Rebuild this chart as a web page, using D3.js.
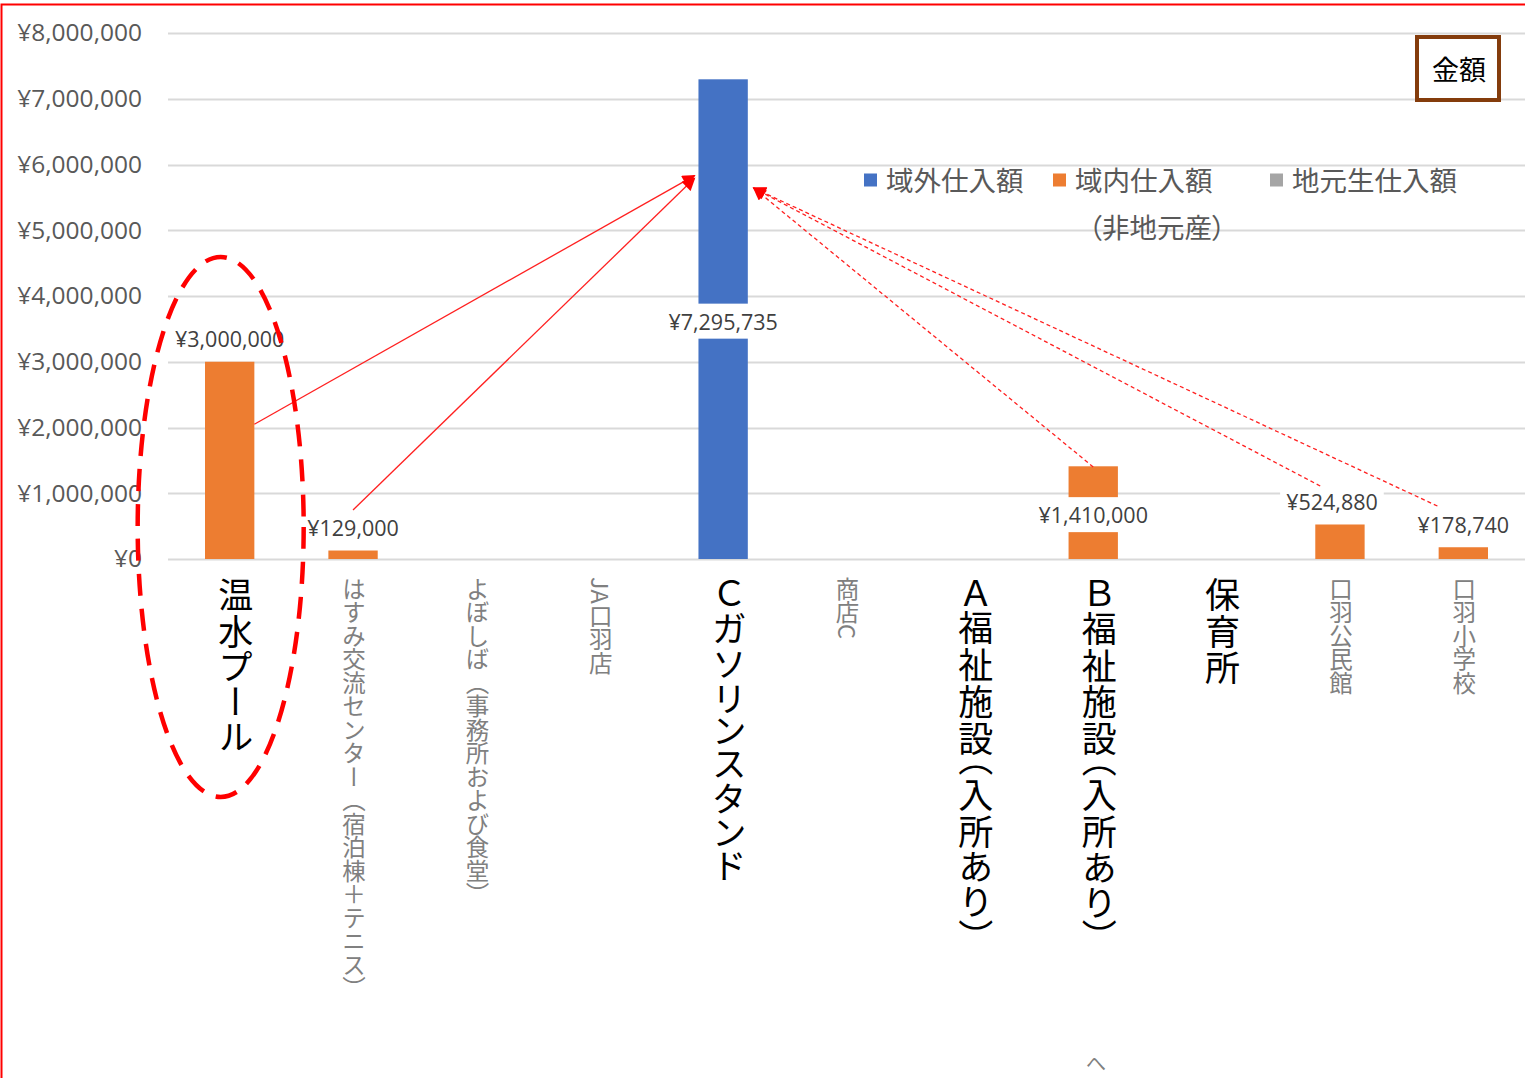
<!DOCTYPE html>
<html lang="ja">
<head>
<meta charset="utf-8">
<script src="https://cdn.jsdelivr.net/npm/d3@7"></script>
<style>
  html, body { margin: 0; padding: 0; background: #fff; }
  svg { display: block; font-family: "Noto Sans CJK JP", "Noto Sans", sans-serif; }
  .vlabel { writing-mode: vertical-rl; }
  .vlabel.big { font-feature-settings: "vpal"; letter-spacing: 1.8px; }
  .palt { font-feature-settings: "palt"; }
  .num { font-family: "Open Sans", "Noto Sans CJK JP", sans-serif; }
</style>
</head>
<body>
<div id="chart"></div>
<script>
// Data
const categories = [
  "温水プール",
  "はすみ交流センター（宿泊棟＋テニス）",
  "よぼしば（事務所および食堂）",
  "JA口羽店",
  "Ｃガソリンスタンド",
  "商店C",
  "Ａ福祉施設（入所あり）",
  "Ｂ福祉施設（入所あり）",
  "保育所",
  "口羽公民館",
  "口羽小学校",
];
const outsideValues = [0, 0, 0, 0, 7295735, 0, 0, 0, 0, 0, 0]; // 域外仕入額
const insideValues = [3000000, 129000, 0, 0, 0, 0, 0, 1410000, 0, 524880, 178740]; // 域内仕入額（非地元産）
const localValues = [0, 0, 0, 0, 0, 0, 0, 0, 0, 0, 0]; // 地元生仕入額
const yTicks = [0, 1000000, 2000000, 3000000, 4000000, 5000000, 6000000, 7000000, 8000000];
const emphasized = ["温水プール", "Ｃガソリンスタンド", "Ａ福祉施設（入所あり）", "Ｂ福祉施設（入所あり）", "保育所"];
const centeredLabels = ["Ｃガソリンスタンド", "Ｂ福祉施設（入所あり）"];
const seriesNames = ["域外仕入額", "域内仕入額", "地元生仕入額"];
const seriesKeys = ["outside", "inside", "local"];

// Arrows drawn on the chart (value coordinates)
const arrows = [
  { from: "温水プール", fromSide: 1, fromValue: 2050000, toValue: 5830000, toSide: -1, dashed: false },
  { from: "はすみ交流センター（宿泊棟＋テニス）", fromSide: 0, fromValue: 745000, toValue: 5790000, toSide: -1, dashed: false },
  { from: "Ｂ福祉施設（入所あり）", fromSide: 0, fromValue: 1400000, toValue: 5640000, toSide: 1, dashed: true },
  { from: "口羽公民館", fromSide: -0.8, fromValue: 1110000, toValue: 5640000, toSide: 1, dashed: true },
  { from: "口羽小学校", fromSide: -1.05, fromValue: 806000, toValue: 5640000, toSide: 1, dashed: true },
];

const table = categories.map((c, i) => ({
  category: c,
  outside: outsideValues[i],
  inside: insideValues[i],
  local: localValues[i],
  total: outsideValues[i] + insideValues[i] + localValues[i],
}));

// Set up dimensions
let width = 1525;
let height = 1078;
let margin = { top: 33, right: 0, bottom: 519, left: 168 };

// Set up colors
let colors = ["#4472c4", "#ed7d31", "#a5a5a5"];
let gridColor = "#d9d9d9";
let arrowColor = "#ff2020";

let formatYen = (d) => "¥" + d3.format(",")(d);

// Set up scales
let xScale = d3
  .scaleBand()
  .domain(categories)
  .range([margin.left, width - margin.right]);
let barWidth = xScale.bandwidth() * 0.4;
let xCenter = (c) => xScale(c) + xScale.bandwidth() / 2;

let yScale = d3
  .scaleLinear()
  .domain([0, 8000000])
  .range([height - margin.bottom, margin.top]);

let colorScale = d3.scaleOrdinal().domain(seriesKeys).range(colors);

const svg = d3
  .select("#chart")
  .append("svg")
  .attr("width", width)
  .attr("height", height);

// Red frame
svg
  .append("path")
  .attr("d", `M1.5,${height} L1.5,4.5 L${width},4.5`)
  .attr("fill", "none")
  .attr("stroke", "#ff0000")
  .attr("stroke-width", 2);

// Draw gridlines
svg
  .append("g")
  .selectAll("line")
  .data(yTicks)
  .join("line")
  .attr("x1", margin.left)
  .attr("x2", width)
  .attr("y1", (d) => Math.round(yScale(d)) + 0.5)
  .attr("y2", (d) => Math.round(yScale(d)) + 0.5)
  .attr("stroke", gridColor)
  .attr("stroke-width", 2);

// Draw y axis labels
const yAxisG = svg
  .append("g")
  .attr("transform", `translate(${margin.left - 26},0)`)
  .call(d3.axisLeft(yScale).tickValues(yTicks).tickFormat(formatYen).tickSize(0).tickPadding(0));
yAxisG.select(".domain").remove();
yAxisG
  .selectAll("text")
  .attr("class", "num")
  .attr("fill", "#595959")
  .style("font-size", "24.5px")
  .style("font-family", "\"Open Sans\", sans-serif");

// Draw bars (stacked)
let stacked = d3.stack().keys(seriesKeys)(table);
svg
  .append("g")
  .selectAll("g")
  .data(stacked)
  .join("g")
  .attr("fill", (d) => colorScale(d.key))
  .selectAll("rect")
  .data((d) => d.filter((e) => e[1] - e[0] > 0))
  .join("rect")
  .attr("x", (d) => xCenter(d.data.category) - barWidth / 2)
  .attr("width", barWidth)
  .attr("y", (d) => yScale(d[1]))
  .attr("height", (d) => yScale(d[0]) - yScale(d[1]));

// Draw value labels
let labelG = svg
  .append("g")
  .selectAll("g")
  .data(table.filter((d) => d.total > 0))
  .join("g");

let labelBg = labelG.append("rect").attr("fill", "#fff");

labelG
  .append("text")
  .attr("class", "num")
  .attr("x", (d) => xCenter(d.category) - (d.category === "口羽公民館" ? 8 : 0))
  .attr("y", (d) =>
    centeredLabels.includes(d.category) ? yScale(d.total / 2) + 2 : yScale(d.total) - 23
  )
  .attr("text-anchor", "middle")
  .attr("dominant-baseline", "central")
  .attr("fill", "#404040")
  .style("font-size", "21.5px")
  .text((d) => formatYen(d.total));

labelBg.each(function () {
  let box = this.parentNode.querySelector("text").getBBox();
  d3.select(this)
    .attr("x", box.x - 6)
    .attr("y", box.y + box.height / 2 - 17.5)
    .attr("width", box.width + 12)
    .attr("height", 35);
});

// Draw category labels (vertical)
svg
  .append("g")
  .selectAll("text")
  .data(categories)
  .join("text")
  .attr("class", (d) => (emphasized.includes(d) ? "vlabel big" : "vlabel"))
  .attr("x", (d) => xCenter(d) + (emphasized.includes(d) ? 6 : 1))
  .attr("y", 577)
  .attr("fill", (d) => (emphasized.includes(d) ? "#000" : "#808080"))
  .style("font-size", (d) => (emphasized.includes(d) ? "35px" : "23.5px"))
  .text((d) => d);

// Draw legend
let legendX = [864, 1053, 1270];
let legendItem = svg
  .append("g")
  .selectAll("g")
  .data(seriesNames)
  .join("g")
  .attr("transform", (d, i) => `translate(${legendX[i]},180)`);

legendItem
  .append("rect")
  .attr("y", -6.5)
  .attr("width", 13)
  .attr("height", 13)
  .attr("fill", (d, i) => colors[i]);

legendItem
  .append("text")
  .attr("x", 22)
  .attr("y", -1)
  .attr("dominant-baseline", "central")
  .attr("fill", "#595959")
  .style("font-size", "27.5px")
  .text((d) => d);

svg
  .append("text")
  .attr("class", "palt")
  .attr("x", 1157)
  .attr("y", 226)
  .attr("text-anchor", "middle")
  .attr("dominant-baseline", "central")
  .attr("fill", "#595959")
  .style("font-size", "27.5px")
  .text("（非地元産）");

// Draw title box
svg
  .append("rect")
  .attr("x", 1417)
  .attr("y", 37)
  .attr("width", 82)
  .attr("height", 63)
  .attr("fill", "#fff")
  .attr("stroke", "#843c0c")
  .attr("stroke-width", 4);

svg
  .append("text")
  .attr("x", 1459)
  .attr("y", 68)
  .attr("text-anchor", "middle")
  .attr("dominant-baseline", "central")
  .attr("fill", "#000")
  .style("font-size", "27px")
  .text("金額");

// Draw arrows
let defs = svg.append("defs");
defs
  .append("marker")
  .attr("id", "arrowhead")
  .attr("viewBox", "0 0 10 10")
  .attr("refX", 9)
  .attr("refY", 5)
  .attr("markerUnits", "userSpaceOnUse")
  .attr("markerWidth", 15)
  .attr("markerHeight", 13)
  .attr("orient", "auto")
  .append("path")
  .attr("d", "M0,0 L10,5 L0,10 Z")
  .attr("fill", "#ff0000");

let target = outsideValues.indexOf(d3.max(outsideValues));
svg
  .append("g")
  .selectAll("line")
  .data(arrows)
  .join("line")
  .attr("x1", (d) => xCenter(d.from) + (d.fromSide * barWidth) / 2)
  .attr("y1", (d) => yScale(d.fromValue))
  .attr("x2", (d) => xCenter(categories[target]) + (d.toSide * (barWidth + 8)) / 2 + (d.toSide > 0 ? 2 : 0))
  .attr("y2", (d) => yScale(d.toValue))
  .attr("stroke", arrowColor)
  .attr("stroke-width", 1.3)
  .attr("stroke-dasharray", (d) => (d.dashed ? "4 3" : null))
  .attr("marker-end", "url(#arrowhead)");

// Draw dashed highlight ellipse
svg
  .append("ellipse")
  .attr("cx", xCenter(categories[0]) - 9)
  .attr("cy", 527)
  .attr("rx", 83)
  .attr("ry", 270)
  .attr("fill", "none")
  .attr("stroke", "#ff0000")
  .attr("stroke-width", 4.5)
  .attr("stroke-dasharray", "22 13");

// Stray glyph at the bottom
svg
  .append("text")
  .attr("x", 1096)
  .attr("y", 1062)
  .attr("text-anchor", "middle")
  .attr("dominant-baseline", "central")
  .attr("fill", "#808080")
  .style("font-size", "20px")
  .text("へ");
</script>
</body>
</html>
